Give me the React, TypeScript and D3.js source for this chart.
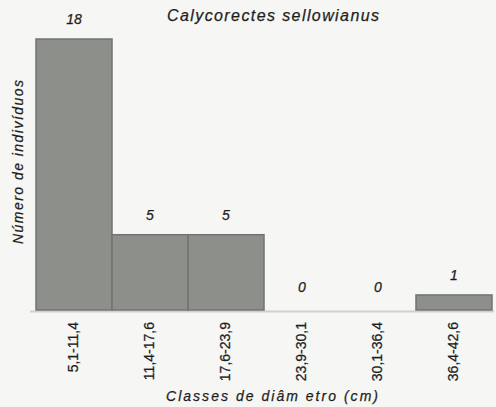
import { useEffect, useRef } from 'react';
import * as d3 from 'd3';

const classes = ['5,1-11,4', '11,4-17,6', '17,6-23,9', '23,9-30,1', '30,1-36,4', '36,4-42,6'];
const counts = [18, 5, 5, 0, 0, 1];
const title = 'Calycorectes sellowianus';
const xTitle = 'Classes de diâm etro (cm)';
const yTitle = 'Número de indivíduos';

function App() {
  const ref = useRef<SVGSVGElement>(null);

  useEffect(() => {
    const svg = d3.select(ref.current);
    svg.selectAll('*').remove();
    const font = 'Arial, "Liberation Sans", sans-serif';
    const ink = '#1e1e1e';

    const x = d3.scaleBand<string>().domain(classes).range([36, 492]).paddingInner(0).paddingOuter(0);
    const y = d3.scaleLinear().domain([0, 18]).range([310, 39]);

    svg.append('rect').attr('width', 496).attr('height', 407).attr('fill', '#f6f7f4');

    // baseline
    svg.append('line')
      .attr('x1', 30).attr('x2', 494)
      .attr('y1', y(0) + 1.5).attr('y2', y(0) + 1.5)
      .attr('stroke', '#cfd1cd').attr('stroke-width', 2);

    const rows = counts.map((v, i) => ({ c: classes[i], v }));

    svg.selectAll('rect.bar')
      .data(rows.filter((d) => d.v > 0))
      .enter()
      .append('rect')
      .attr('class', 'bar')
      .attr('x', (d) => x(d.c)!)
      .attr('y', (d) => y(d.v))
      .attr('width', x.bandwidth())
      .attr('height', (d) => y(0) - y(d.v))
      .attr('fill', '#8d8f8b')
      .attr('stroke', '#72746f')
      .attr('stroke-width', 1.5);

    const txt = (sel: any) =>
      sel.attr('font-family', font).attr('fill', ink).attr('stroke', ink).attr('stroke-width', 0.25);

    // value labels
    svg.selectAll('text.val')
      .data(rows)
      .enter()
      .append('text')
      .attr('x', (d) => x(d.c)! + x.bandwidth() / 2)
      .attr('y', (d) => y(d.v) - (d.v === 0 ? 18 : 15))
      .attr('text-anchor', 'middle')
      .attr('font-style', 'italic')
      .attr('font-size', 14)
      .call(txt)
      .text((d) => d.v);

    // category tick labels
    svg.selectAll('text.cat')
      .data(classes)
      .enter()
      .append('text')
      .attr('transform', (d) => `translate(${x(d)! + x.bandwidth() / 2 + 4},${y(0) + 12}) rotate(-90)`)
      .attr('text-anchor', 'end')
      .attr('font-size', 14)
      .call(txt)
      .text((d) => d);

    svg.append('text')
      .attr('x', 273).attr('y', 21)
      .attr('text-anchor', 'middle')
      .attr('font-style', 'italic')
      .attr('font-size', 16)
      .attr('textLength', 212)
      .attr('lengthAdjust', 'spacing')
      .call(txt)
      .text(title);

    svg.append('text')
      .attr('x', 272).attr('y', 401)
      .attr('text-anchor', 'middle')
      .attr('font-style', 'italic')
      .attr('font-size', 14)
      .attr('textLength', 212)
      .attr('lengthAdjust', 'spacing')
      .call(txt)
      .text(xTitle);

    svg.append('text')
      .attr('transform', 'translate(23,162) rotate(-90)')
      .attr('text-anchor', 'middle')
      .attr('font-style', 'italic')
      .attr('font-size', 14)
      .attr('textLength', 164)
      .attr('lengthAdjust', 'spacing')
      .call(txt)
      .text(yTitle);
  }, []);

  return (
    <svg ref={ref} width={496} height={407} style={{ position: 'absolute', left: 0, top: 0 }} />
  );
}

export default App;
